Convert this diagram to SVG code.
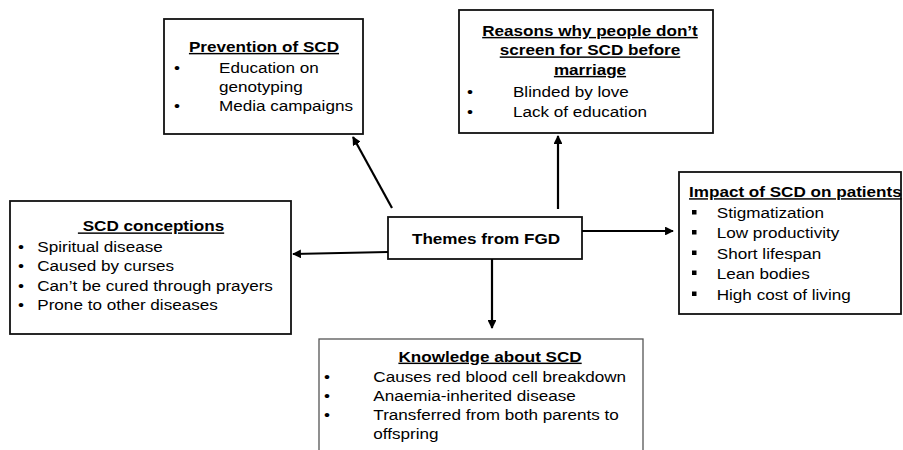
<svg xmlns="http://www.w3.org/2000/svg" width="903" height="450" viewBox="0 0 903 450">
<defs>
<marker id="ah" viewBox="0 0 10 10" refX="9" refY="5" markerWidth="4" markerHeight="4" orient="auto" markerUnits="strokeWidth">
<path d="M0,0 L10,5 L0,10 z" fill="#000"/>
</marker>
<style>
.box{fill:#fff;stroke:#111;stroke-width:1.8}
.t{font-family:"Liberation Sans",Arial,sans-serif;font-size:14.5px;fill:#000}
.h{font-weight:bold;text-decoration:underline;text-anchor:middle}
.c{font-weight:bold;text-anchor:middle}
.conn line{stroke:#000;stroke-width:2.2;marker-end:url(#ah)}
</style>
</defs>
<rect width="903" height="450" fill="#fff"/>

<g id="prevention">
<rect class="box" x="164" y="19" width="199" height="115"/>
<g transform="scale(1.18 1)">
<text class="t h" x="223.7" y="52">Prevention of SCD</text>
<text class="t" x="147.5" y="73">•</text>
<text class="t" x="185.6" y="73">Education on</text>
<text class="t" x="185.6" y="92">genotyping</text>
<text class="t" x="147.5" y="111.5">•</text>
<text class="t" x="185.6" y="111.5">Media campaigns</text>
</g>
</g>

<g id="reasons">
<rect class="box" x="459" y="10" width="254" height="123"/>
<g transform="scale(1.18 1)">
<text class="t h" x="500" y="36">Reasons why people don’t</text>
<text class="t h" x="500" y="55.5">screen for SCD before</text>
<text class="t h" x="500" y="75">marriage</text>
<text class="t" x="395.8" y="97">•</text>
<text class="t" x="434.7" y="97">Blinded by love</text>
<text class="t" x="395.8" y="117">•</text>
<text class="t" x="434.7" y="117">Lack of education</text>
</g>
</g>

<g id="conceptions">
<rect class="box" x="10" y="201" width="281" height="133"/>
<g transform="scale(1.18 1)">
<text class="t h" x="128" y="231.5">&#160;SCD conceptions</text>
<text class="t" x="15.3" y="252">•</text>
<text class="t" x="31.6" y="252">Spiritual disease</text>
<text class="t" x="15.3" y="271.5">•</text>
<text class="t" x="31.6" y="271.5">Caused by curses</text>
<text class="t" x="15.3" y="291">•</text>
<text class="t" x="31.6" y="291">Can’t be cured through prayers</text>
<text class="t" x="15.3" y="310.5">•</text>
<text class="t" x="31.6" y="310.5">Prone to other diseases</text>
</g>
</g>

<g id="impact">
<rect class="box" x="679" y="172" width="222" height="142"/>
<rect x="692" y="210" width="4.5" height="4.5" fill="#000"/>
<rect x="692" y="230" width="4.5" height="4.5" fill="#000"/>
<rect x="692" y="250.5" width="4.5" height="4.5" fill="#000"/>
<rect x="692" y="270.5" width="4.5" height="4.5" fill="#000"/>
<rect x="692" y="291.5" width="4.5" height="4.5" fill="#000"/>
<g transform="scale(1.18 1)">
<text class="t" x="583.9" y="197.3" style="font-weight:bold;text-decoration:underline">Impact of SCD on patients</text>
<text class="t" x="607.4" y="218.3">Stigmatization</text>
<text class="t" x="607.4" y="238.5">Low productivity</text>
<text class="t" x="607.4" y="259">Short lifespan</text>
<text class="t" x="607.4" y="279">Lean bodies</text>
<text class="t" x="607.4" y="300">High cost of living</text>
</g>
</g>

<g id="knowledge">
<rect class="box" x="319" y="339" width="324" height="130" style="stroke:#555;stroke-width:1.3"/>
<g transform="scale(1.18 1)">
<text class="t h" x="415.3" y="361.7">Knowledge about SCD</text>
<text class="t" x="274.6" y="381.7">•</text>
<text class="t" x="316.4" y="381.7">Causes red blood cell breakdown</text>
<text class="t" x="274.6" y="400.7">•</text>
<text class="t" x="316.4" y="400.7">Anaemia-inherited disease</text>
<text class="t" x="274.6" y="420">•</text>
<text class="t" x="316.4" y="420">Transferred from both parents to</text>
<text class="t" x="316.4" y="439.3">offspring</text>
</g>
</g>

<g id="themes">
<rect class="box" x="388" y="217" width="194" height="42"/>
<g transform="scale(1.18 1)">
<text class="t c" x="411.9" y="244">Themes from FGD</text>
</g>
</g>

<g id="connectors" class="conn">
<line x1="392" y1="208" x2="353" y2="137"/>
<line x1="558" y1="209" x2="558" y2="136"/>
<line x1="388" y1="252" x2="293" y2="254"/>
<line x1="582" y1="231" x2="673" y2="231"/>
<line x1="492" y1="259" x2="492" y2="328"/>
</g>
</svg>
